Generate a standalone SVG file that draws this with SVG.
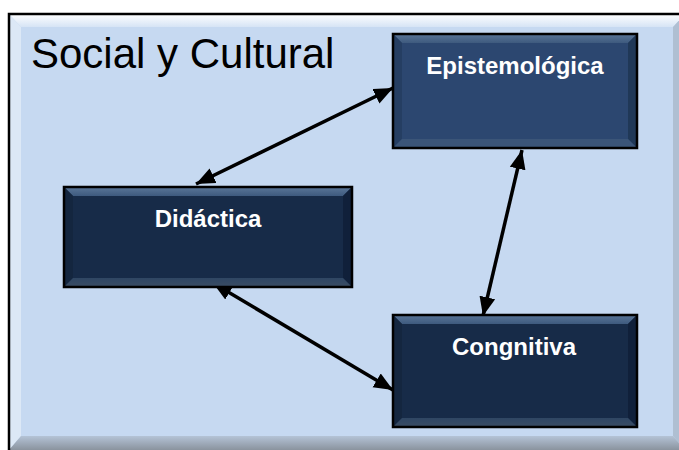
<svg xmlns="http://www.w3.org/2000/svg" width="679" height="450" viewBox="0 0 679 450">
  <style>
    .lbl { font-family: "Liberation Sans", Arial, sans-serif; font-weight: bold; font-size: 24px; fill: #FFFFFF; text-anchor: middle; }
    .title { font-family: "Liberation Sans", Arial, sans-serif; font-size: 42px; fill: #000000; }
    .edge { stroke: #000000; stroke-width: 3.5; fill: none; marker-start: url(#ah); marker-end: url(#ah); }
    .border { fill: none; stroke: #000000; stroke-width: 2.5; }
  </style>
  <defs>
    <marker id="ah" markerUnits="userSpaceOnUse" markerWidth="20" markerHeight="17" refX="19" refY="8" orient="auto-start-reverse" viewBox="0 0 20 16">
      <path d="M0,0 L19,8 L0,16 z" fill="#000000"/>
    </marker>
    <linearGradient id="frameTop" x1="0" y1="0" x2="0" y2="1">
      <stop offset="0" stop-color="#FFFFFF"/>
      <stop offset="1" stop-color="#D6E4F5"/>
    </linearGradient>
    <linearGradient id="frameBot" x1="0" y1="0" x2="0" y2="1">
      <stop offset="0" stop-color="#B4C3D6"/>
      <stop offset="1" stop-color="#8A939E"/>
    </linearGradient>
    <linearGradient id="nodeTop" x1="0" y1="0" x2="0" y2="1">
      <stop offset="0" stop-color="#5A7698"/>
      <stop offset="1" stop-color="#3E5A7E"/>
    </linearGradient>
    <linearGradient id="nodeBot" x1="0" y1="0" x2="0" y2="1">
      <stop offset="0" stop-color="#2F4663"/>
      <stop offset="1" stop-color="#3A4C63"/>
    </linearGradient>
  </defs>

  <g id="frame">
    <rect x="9" y="14" width="676" height="440" fill="#C6D9F1"/>
    <polygon points="9,14 685,14 673,27 21,27" fill="url(#frameTop)"/>
    <polygon points="9,14 21,27 21,436 9,450" fill="#DCE8F6"/>
    <polygon points="685,14 673,27 673,436 685,450" fill="#AFBFD2"/>
    <polygon points="9,450 685,450 673,436 21,436" fill="url(#frameBot)"/>
    <rect x="9" y="14" width="676" height="440" class="border"/>
    <text x="31" y="68" class="title">Social y Cultural</text>
  </g>

  <g id="connectors">
    <line x1="196" y1="184" x2="393" y2="88" class="edge"/>
    <line x1="522" y1="150" x2="483" y2="316" class="edge"/>
    <line x1="213" y1="283" x2="393" y2="390" class="edge"/>
  </g>

  <g id="node-epistemologica">
    <rect x="393" y="34" width="244" height="114" fill="#2C4770"/>
    <polygon points="393,34 637,34 628,43 402,43" fill="url(#nodeTop)"/>
    <polygon points="393,34 402,43 402,139 393,148" fill="#253E62"/>
    <polygon points="637,34 628,43 628,139 637,148" fill="#203857"/>
    <polygon points="393,148 637,148 628,139 402,139" fill="#3B5578"/>
    <rect x="393" y="34" width="244" height="114" class="border"/>
    <text x="515" y="74" class="lbl">Epistemológica</text>
  </g>

  <g id="node-didactica">
    <rect x="64" y="187" width="288" height="100" fill="#172B48"/>
    <polygon points="64,187 352,187 343,196 73,196" fill="url(#nodeTop)"/>
    <polygon points="64,187 73,196 73,278 64,287" fill="#14263F"/>
    <polygon points="352,187 343,196 343,278 352,287" fill="#10203A"/>
    <polygon points="64,287 352,287 343,278 73,278" fill="url(#nodeBot)"/>
    <rect x="64" y="187" width="288" height="100" class="border"/>
    <text x="208" y="227" class="lbl">Didáctica</text>
  </g>

  <g id="node-congnitiva">
    <rect x="393" y="315" width="244" height="112" fill="#172B48"/>
    <polygon points="393,315 637,315 628,324 402,324" fill="url(#nodeTop)"/>
    <polygon points="393,315 402,324 402,418 393,427" fill="#14263F"/>
    <polygon points="637,315 628,324 628,418 637,427" fill="#10203A"/>
    <polygon points="393,427 637,427 628,418 402,418" fill="url(#nodeBot)"/>
    <rect x="393" y="315" width="244" height="112" class="border"/>
    <text x="514" y="355" class="lbl">Congnitiva</text>
  </g>
</svg>
